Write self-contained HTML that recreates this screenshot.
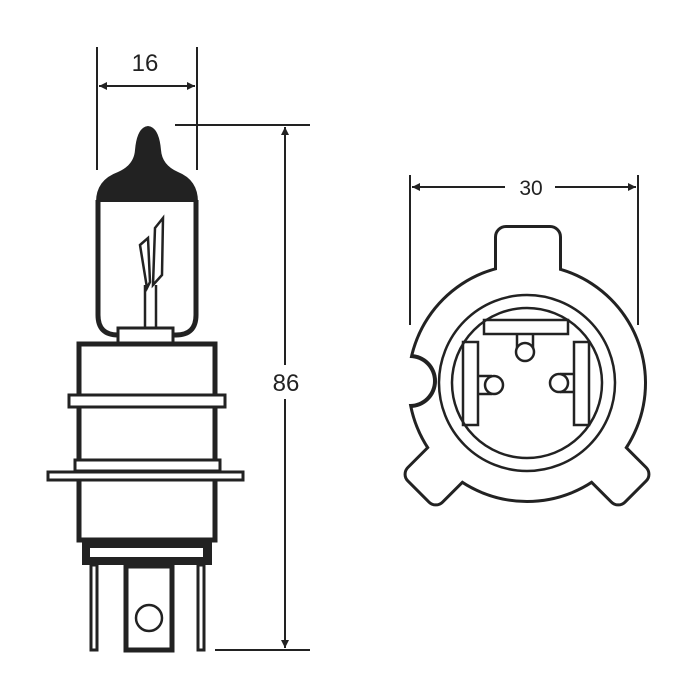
<!DOCTYPE html>
<html><head><style>body{margin:0;background:#fff}svg{display:block}</style></head><body>
<svg width="700" height="700" viewBox="0 0 700 700" xmlns="http://www.w3.org/2000/svg">
<defs>
<marker id="ar" viewBox="0 0 10 10" refX="10" refY="5" markerWidth="12" markerHeight="8" orient="auto-start-reverse" markerUnits="userSpaceOnUse"><path d="M0,0 L10,5 L0,10 z" fill="#222"/></marker>
<mask id="mb"><rect width="700" height="700" fill="#fff"/><circle cx="410" cy="381" r="23" fill="#000"/></mask>
<mask id="mw"><rect width="700" height="700" fill="#fff"/><circle cx="410" cy="381" r="27" fill="#000"/></mask>
<g id="tabs">
<circle cx="527" cy="383" r="117"/>
<rect x="497" y="228" width="62" height="80" rx="9"/>
<rect x="504" y="231" width="46" height="80" rx="8" transform="rotate(135 527 383)"/>
<rect x="504" y="231" width="46" height="80" rx="8" transform="rotate(-135 527 383)"/>
</g>
</defs>
<g fill="none" stroke="#222" stroke-width="2">
<line x1="97" y1="47" x2="97" y2="170"/><line x1="197" y1="47" x2="197" y2="170"/>
<line x1="99" y1="86" x2="195" y2="86" marker-start="url(#ar)" marker-end="url(#ar)"/>
<line x1="175" y1="125" x2="310" y2="125"/><line x1="215" y1="650" x2="310" y2="650"/>
<line x1="285" y1="127" x2="285" y2="648" marker-start="url(#ar)" marker-end="url(#ar)"/>
<line x1="410" y1="175" x2="410" y2="325"/><line x1="638" y1="175" x2="638" y2="325"/>
<line x1="412" y1="187" x2="636" y2="187" marker-start="url(#ar)" marker-end="url(#ar)"/>
</g>
<rect x="268" y="365" width="34" height="34" fill="#fff"/>
<rect x="505" y="175" width="50" height="24" fill="#fff"/>
<g font-family="Liberation Sans, sans-serif" font-size="24" fill="#222" text-anchor="middle">
<text x="145" y="71">16</text><text x="286" y="391">86</text><text x="531" y="195" font-size="21">30</text>
</g>
<path d="M98,200 L98,315 Q98,335 118,335 L176,335 Q196,335 196,315 L196,200" fill="none" stroke="#222" stroke-width="5"/>
<path d="M96,202 Q96,180 118,172 Q134,165 135,150 Q137,127 148,126 Q159,127 161,150 Q162,165 178,172 Q198,180 198,202 Z" fill="#222"/>
<rect x="118" y="328" width="55" height="16" fill="#fff" stroke="#222" stroke-width="3"/>
<g fill="none" stroke="#222" stroke-width="2.5">
<line x1="145" y1="328" x2="145" y2="285"/><line x1="156" y1="328" x2="156" y2="285"/>
<path d="M140,245 L148,238 L150,282 L147,288 Z"/>
<path d="M155,228 L163,218 L162,275 L153,285 Z"/>
</g>
<rect x="79" y="344" width="136" height="196" fill="#fff" stroke="#222" stroke-width="5"/>
<rect x="69" y="395" width="156" height="12" fill="#fff" stroke="#222" stroke-width="3"/>
<rect x="75" y="460" width="145" height="11" fill="#fff" stroke="#222" stroke-width="3"/>
<rect x="48" y="472" width="195" height="8" fill="#fff" stroke="#222" stroke-width="3"/>
<rect x="82" y="538" width="130" height="27" fill="#222"/>
<rect x="90" y="548" width="113" height="9" fill="#fff"/>
<g fill="#fff" stroke="#222" stroke-width="3">
<rect x="91" y="565" width="6" height="85"/><rect x="198" y="565" width="6" height="85"/>
</g>
<rect x="126" y="566" width="46" height="84" fill="#fff" stroke="#222" stroke-width="5"/>
<circle cx="149" cy="618" r="13" fill="none" stroke="#222" stroke-width="2.5"/>
<g mask="url(#mb)" fill="#222" stroke="#222" stroke-width="6" stroke-linejoin="round"><use href="#tabs"/></g>
<g mask="url(#mw)" fill="#fff"><use href="#tabs"/></g>
<g fill="none" stroke="#222" stroke-width="2.5">
<circle cx="527" cy="383" r="88"/><circle cx="527" cy="383" r="75"/>
<rect x="484" y="320" width="84" height="14"/>
<rect x="463" y="342" width="15" height="83"/><rect x="574" y="342" width="15" height="83"/>
<path d="M517,334 L517,350 M533,334 L533,350"/>
<circle cx="525" cy="352" r="9" fill="#fff"/>
<path d="M478,376 L492,376 M478,394 L492,394"/>
<circle cx="494" cy="385" r="9" fill="#fff"/>
<path d="M574,374 L560,374 M574,392 L560,392"/>
<circle cx="559" cy="383" r="9" fill="#fff"/>
</g>
</svg>
</body></html>
